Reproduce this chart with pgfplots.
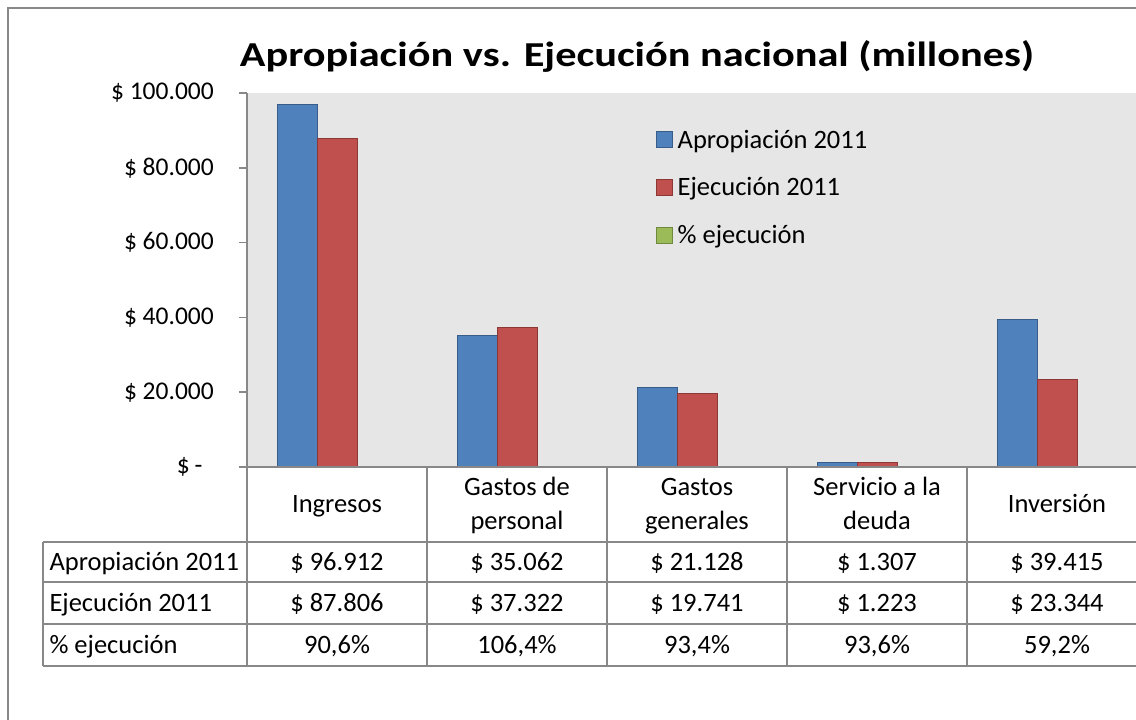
\documentclass[border=0pt]{standalone}
\usepackage{pgfplots}
\pgfplotsset{compat=1.18}
\usepackage{fontspec}
\setmainfont{Carlito}
\definecolor{bblue}{HTML}{4F81BD}
\definecolor{bbluee}{HTML}{385D8A}
\definecolor{rred}{HTML}{C0504D}
\definecolor{rrede}{HTML}{8C3836}
\definecolor{ggreen}{HTML}{9BBB59}
\definecolor{ggreene}{HTML}{71893F}
\definecolor{plotgray}{HTML}{E6E6E6}
\definecolor{linegray}{HTML}{888888}
\newcommand{\tf}{\fontsize{26.5}{31}\selectfont}
\newcommand{\kf}{\fontsize{25.5}{30}\selectfont}
\begin{document}
\begin{tikzpicture}[x=1pt,y=1pt]
\path[use as bounding box, clip] (0,0) rectangle (1136,720);
\fill[white] (0,0) rectangle (1136,720);
\begin{axis}[
  at={(247pt,253pt)}, anchor=south west,
  scale only axis, width=900pt, height=374pt,
  xmin=-0.5, xmax=4.5, ymin=0, ymax=100000,
  axis on top,
  axis lines=left, axis line style={-, linegray, line width=1.5pt},
  axis background/.style={fill=plotgray},
  xtick=\empty,
  ytick={0,20000,40000,60000,80000,100000},
  yticklabels={{\makebox[37pt][l]{\$\hspace{5pt}-}},{\$ 20.000},{\$ 40.000},{\$ 60.000},{\$ 80.000},{\$ 100.000}},
  scaled y ticks=false,
  tick align=outside, major tick length=8pt,
  y tick style={linegray, line width=1.5pt},
  yticklabel style={font=\kf, inner sep=0pt},
  yticklabel shift=25pt,
  ybar, bar width=40pt,
  legend style={draw=none, fill=none, at={(0.4544,0.907)}, anchor=north west,
    font=\tf, row sep=24pt, inner sep=0pt},
  legend cell align=left,
  legend image code/.code={\draw[#1, line width=1pt] (0pt,-8pt) rectangle (16pt,8pt); \path[draw=none, fill=none] (0pt,0pt) -- (19pt,0pt);},
]
\addplot[fill=bblue, draw=bbluee, line width=1pt, bar shift=-40pt]
  coordinates {(0,96912) (1,35062) (2,21128) (3,1307) (4,39415)};
\addplot[fill=rred, draw=rrede, line width=1pt, bar shift=0pt]
  coordinates {(0,87806) (1,37322) (2,19741) (3,1223) (4,23344)};
\addplot[fill=ggreen, draw=ggreene, line width=1pt, bar shift=40pt]
  coordinates {(0,0.906) (1,1.064) (2,0.934) (3,0.936) (4,0.592)};
\legend{Apropiación 2011, Ejecución 2011, \% ejecución}
\end{axis}
% frame
\draw[linegray, line width=2pt] (8,0) -- (8,712) -- (1136,712);
% title
\node[anchor=base, font=\fontsize{35}{42}\selectfont\bfseries] at (637,653) {\scalebox{1.21}[1]{Apropiación vs. Ejecución nacional (millones)}};
% data table lines
\begin{scope}[linegray, line width=1.5pt]
\foreach \yy in {178,138,96,54} {\draw (43,\yy) -- (1136,\yy);}
\draw (43,178) -- (43,54);
\foreach \xx in {247,427,607,787,967} {\draw (\xx,253) -- (\xx,54);}
\end{scope}
% header
\begin{scope}[font=\tf]
\node[anchor=base] at (337,207) {Ingresos};
\node[anchor=base] at (517,224) {Gastos de};
\node[anchor=base] at (517,190) {personal};
\node[anchor=base] at (697,224) {Gastos};
\node[anchor=base] at (697,190) {generales};
\node[anchor=base] at (877,224) {Servicio a la};
\node[anchor=base] at (877,190) {deuda};
\node[anchor=base] at (1057,207) {Inversión};
\node[anchor=base west] at (46,149) {Apropiación 2011};
\node[anchor=base west] at (46,108) {Ejecución 2011};
\node[anchor=base west] at (46,66) {\% ejecución};
\node[anchor=base] at (337,149) {\$ 96.912};
\node[anchor=base] at (517,149) {\$ 35.062};
\node[anchor=base] at (697,149) {\$ 21.128};
\node[anchor=base] at (877,149) {\$ 1.307};
\node[anchor=base] at (1057,149) {\$ 39.415};
\node[anchor=base] at (337,108) {\$ 87.806};
\node[anchor=base] at (517,108) {\$ 37.322};
\node[anchor=base] at (697,108) {\$ 19.741};
\node[anchor=base] at (877,108) {\$ 1.223};
\node[anchor=base] at (1057,108) {\$ 23.344};
\node[anchor=base] at (337,66) {90,6\%};
\node[anchor=base] at (517,66) {106,4\%};
\node[anchor=base] at (697,66) {93,4\%};
\node[anchor=base] at (877,66) {93,6\%};
\node[anchor=base] at (1057,66) {59,2\%};
\end{scope}
\end{tikzpicture}
\end{document}
